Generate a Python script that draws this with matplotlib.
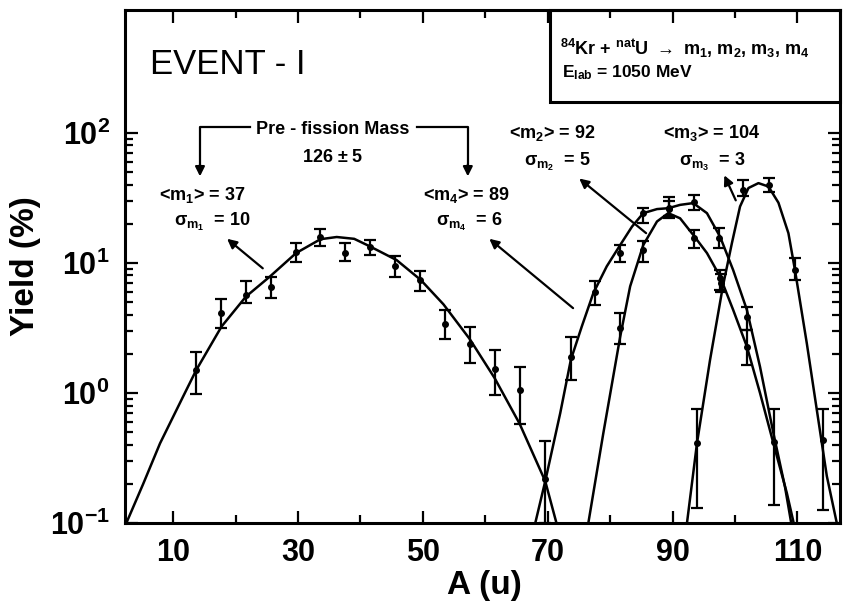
#!/usr/bin/env python
# mass yield distributions, event I, log scale with error bars
import numpy as np
import matplotlib.pyplot as plt
from matplotlib.patches import Rectangle
from matplotlib.ticker import FixedLocator, NullFormatter

plt.rcParams['font.family'] = ['Liberation Sans', 'DejaVu Sans']
plt.rcParams['font.weight'] = 'bold'
plt.rcParams['axes.labelweight'] = 'bold'
plt.rcParams['mathtext.default'] = 'regular'

# measured yields (points with error bars)
a1 = [13.7, 17.7, 21.7, 25.7, 29.7, 33.6, 37.6, 41.5, 45.5, 49.5, 53.5, 57.5, 61.5, 65.5, 69.6]
y1 = [1.5, 4.1, 5.7, 6.5, 12.2, 15.8, 11.9, 13.2, 9.4, 7.4, 3.4, 2.4, 1.52, 1.05, 0.22]
y1_hi = [2.08, 5.26, 7.2, 7.8, 14.3, 18.2, 14.3, 14.9, 11.2, 8.7, 4.35, 3.2, 2.14, 1.58, 0.43]
y1_lo = [0.98, 3.15, 4.9, 5.35, 10.2, 13.5, 10.4, 11.5, 7.8, 6.1, 2.6, 1.7, 0.97, 0.58, 0.1]

a4 = [73.7, 77.5, 81.5, 85.3, 89.4, 93.4, 97.5, 101.9, 106.2]
y4 = [1.9, 6.0, 11.9, 24.0, 26.3, 29.6, 15.5, 3.86, 0.42]
y4_hi = [2.7, 7.2, 13.7, 26.3, 32.0, 33.4, 18.5, 4.6, 0.76]
y4_lo = [1.26, 4.75, 10.2, 20.2, 22.8, 25.6, 13.0, 3.05, 0.138]

a2 = [81.6, 85.3, 89.4, 93.5, 97.6, 101.9]
y2 = [3.15, 12.6, 26.0, 15.5, 7.6, 2.27]
y2_hi = [4.1, 14.6, 30.0, 18.0, 8.8, 3.05]
y2_lo = [2.4, 10.2, 22.0, 13.0, 6.2, 1.64]

a3 = [93.9, 97.8, 101.3, 105.4, 109.6, 114.1]
y3 = [0.41, 7.0, 36.5, 40.0, 8.8, 0.435]
y3_hi = [0.76, 8.2, 43.5, 45.0, 10.9, 0.76]
y3_lo = [0.13, 6.0, 32.4, 35.3, 7.4, 0.126]

# fitted curves
c1_a = [2.5, 5.2, 7.9, 11.6, 13.7, 17.75, 21.65, 25.5, 29.7, 33.6, 36.2, 39.0, 41.5, 45.8,
        49.65, 53.3, 57.5, 61.5, 65.5, 69.6, 71.4]
c1_y = [0.1, 0.2, 0.41, 0.94, 1.5, 3.24, 5.5, 7.85, 11.9, 15.2, 15.8, 15.3, 13.4, 10.5,
        7.4, 4.8, 2.6, 1.3, 0.58, 0.21, 0.1]
c4_a = [68.0, 69.6, 72.0, 73.7, 75.45, 77.3, 79.45, 81.6, 83.5, 85.3, 87.5, 89.3, 91.2,
        93.3, 95.5, 97.6, 99.7, 101.9, 104.0, 106.15, 108.0, 109.0]
c4_y = [0.1, 0.21, 0.70, 1.8, 3.24, 5.85, 9.4, 13.7, 19.0, 24.1, 25.9, 26.3, 27.9,
        28.8, 24.1, 15.9, 8.8, 4.35, 1.59, 0.49, 0.19, 0.1]
c2_a = [76.5, 78.9, 81.6, 83.2, 85.3, 87.5, 89.3, 91.2, 93.3, 95.5, 97.6, 99.7, 101.9,
        104.0, 106.15, 108.3, 109.4]
c2_y = [0.1, 0.49, 2.7, 6.6, 13.7, 20.8, 24.1, 22.0, 16.4, 11.9, 7.85, 4.35, 2.27,
        1.0, 0.41, 0.17, 0.1]
c3_a = [92.3, 93.9, 96.0, 98.05, 99.5, 100.8, 102.15, 103.75, 105.35, 106.95, 108.55,
        109.6, 111.5, 113.1, 114.7, 116.3]
c3_y = [0.1, 0.41, 1.8, 6.6, 14.2, 27.1, 37.6, 41.0, 38.6, 29.0, 16.9, 8.8, 2.4,
        0.74, 0.23, 0.1]

xticks = [10, 30, 50, 70, 90, 110]

fig = plt.figure(figsize=(8.45, 6.14), dpi=100)
ax = fig.add_axes([0.148, 0.148, 0.846, 0.836])
ax.set_yscale('log')

for a, y in [(c1_a, c1_y), (c4_a, c4_y), (c2_a, c2_y), (c3_a, c3_y)]:
    ax.plot(a, y, color='black', lw=1.8, solid_joinstyle='round')

for a, y, hi, lo in [(a1, y1, y1_hi, y1_lo), (a4, y4, y4_hi, y4_lo),
                     (a2, y2, y2_hi, y2_lo), (a3, y3, y3_hi, y3_lo)]:
    y = np.array(y)
    err = [y - np.array(lo), np.array(hi) - y]
    ax.errorbar(a, y, yerr=err, fmt='o', color='black', ms=4,
                elinewidth=1.6, capsize=4, capthick=1.6)

ax.set_xlim(2.3, 116.8)
ax.set_ylim(0.1, 880)

ax.set_xticks(xticks)
ax.xaxis.set_minor_locator(FixedLocator([20, 40, 60, 80, 100]))
ax.yaxis.set_major_locator(FixedLocator([0.1, 1, 10, 100]))
ax.yaxis.set_minor_locator(FixedLocator([k * 10.0 ** e for e in (-1, 0, 1) for k in range(2, 10)]))
ax.yaxis.set_minor_formatter(NullFormatter())
ax.tick_params(which='both', direction='in', top=True, right=True, width=1.6,
               labelsize=22, pad=11)
ax.tick_params(which='major', length=9)
ax.tick_params(which='minor', length=6)
for s in ax.spines.values():
    s.set_linewidth(2.2)

ax.set_ylabel('Yield (%)', fontsize=24)
ax.yaxis.set_label_coords(-0.118, 0.5)
ax.set_xlabel('A (u)', fontsize=24)
ax.xaxis.set_label_coords(0.503, -0.092)

# reaction box
ax.add_patch(Rectangle((0.594, 0.82), 0.406, 0.18, transform=ax.transAxes,
                       fill=False, lw=2.2, clip_on=False))
ax.text(0.608, 0.912, r'$^{84}$Kr + $^{nat}$U $\rightarrow$ m$_1$, m$_2$, m$_3$, m$_4$',
        transform=ax.transAxes, fontsize=13, va='baseline')
ax.text(0.611, 0.869, r'E$_{lab}$ = 1050 MeV', transform=ax.transAxes,
        fontsize=12.5, va='baseline')

ax.text(6.3, 333, 'EVENT - I', fontsize=25, ha='left', va='center', fontweight='normal')

# pre-fission mass bracket
fs = 13
ax.text(35.6, 105, 'Pre - fission Mass', fontsize=fs, ha='center', va='center')
ax.text(35.5, 65, r'126 $\pm$ 5', fontsize=fs, ha='center', va='center')
ax.plot([22.3, 14.3, 14.3], [111, 111, 52], color='black', lw=1.6)
ax.plot([49.0, 57.2, 57.2], [111, 111, 52], color='black', lw=1.6)
arr = dict(arrowstyle='-|>', color='black', lw=1.6, mutation_scale=14)
ax.annotate('', xy=(14.3, 44), xytext=(14.3, 60), arrowprops=arr)
ax.annotate('', xy=(57.2, 44), xytext=(57.2, 60), arrowprops=arr)

ax.text(14.6, 33.3, r'<m$_1$> = 37', fontsize=fs, ha='center', va='center')
ax.text(16.2, 20.7, r'$\sigma_{m_1}$  = 10', fontsize=fs, ha='center', va='center')
ax.annotate('', xy=(18.3, 15.8), xytext=(24.7, 8.8), arrowprops=arr)

ax.text(56.9, 33.3, r'<m$_4$> = 89', fontsize=fs, ha='center', va='center')
ax.text(57.5, 20.7, r'$\sigma_{m_4}$  = 6', fontsize=fs, ha='center', va='center')
ax.annotate('', xy=(60.3, 15.8), xytext=(74.4, 4.35), arrowprops=arr)

ax.text(70.7, 100, r'<m$_2$> = 92', fontsize=fs, ha='center', va='center')
ax.text(71.5, 59.8, r'$\sigma_{m_2}$  = 5', fontsize=fs, ha='center', va='center')
ax.annotate('', xy=(74.7, 45.9), xytext=(86.1, 16.4), arrowprops=arr)

ax.text(96.3, 100, r'<m$_3$> = 104', fontsize=fs, ha='center', va='center')
ax.text(96.3, 59.8, r'$\sigma_{m_3}$  = 3', fontsize=fs, ha='center', va='center')
ax.annotate('', xy=(98.1, 49.2), xytext=(100.3, 28.9), arrowprops=arr)

plt.savefig('out.png')
